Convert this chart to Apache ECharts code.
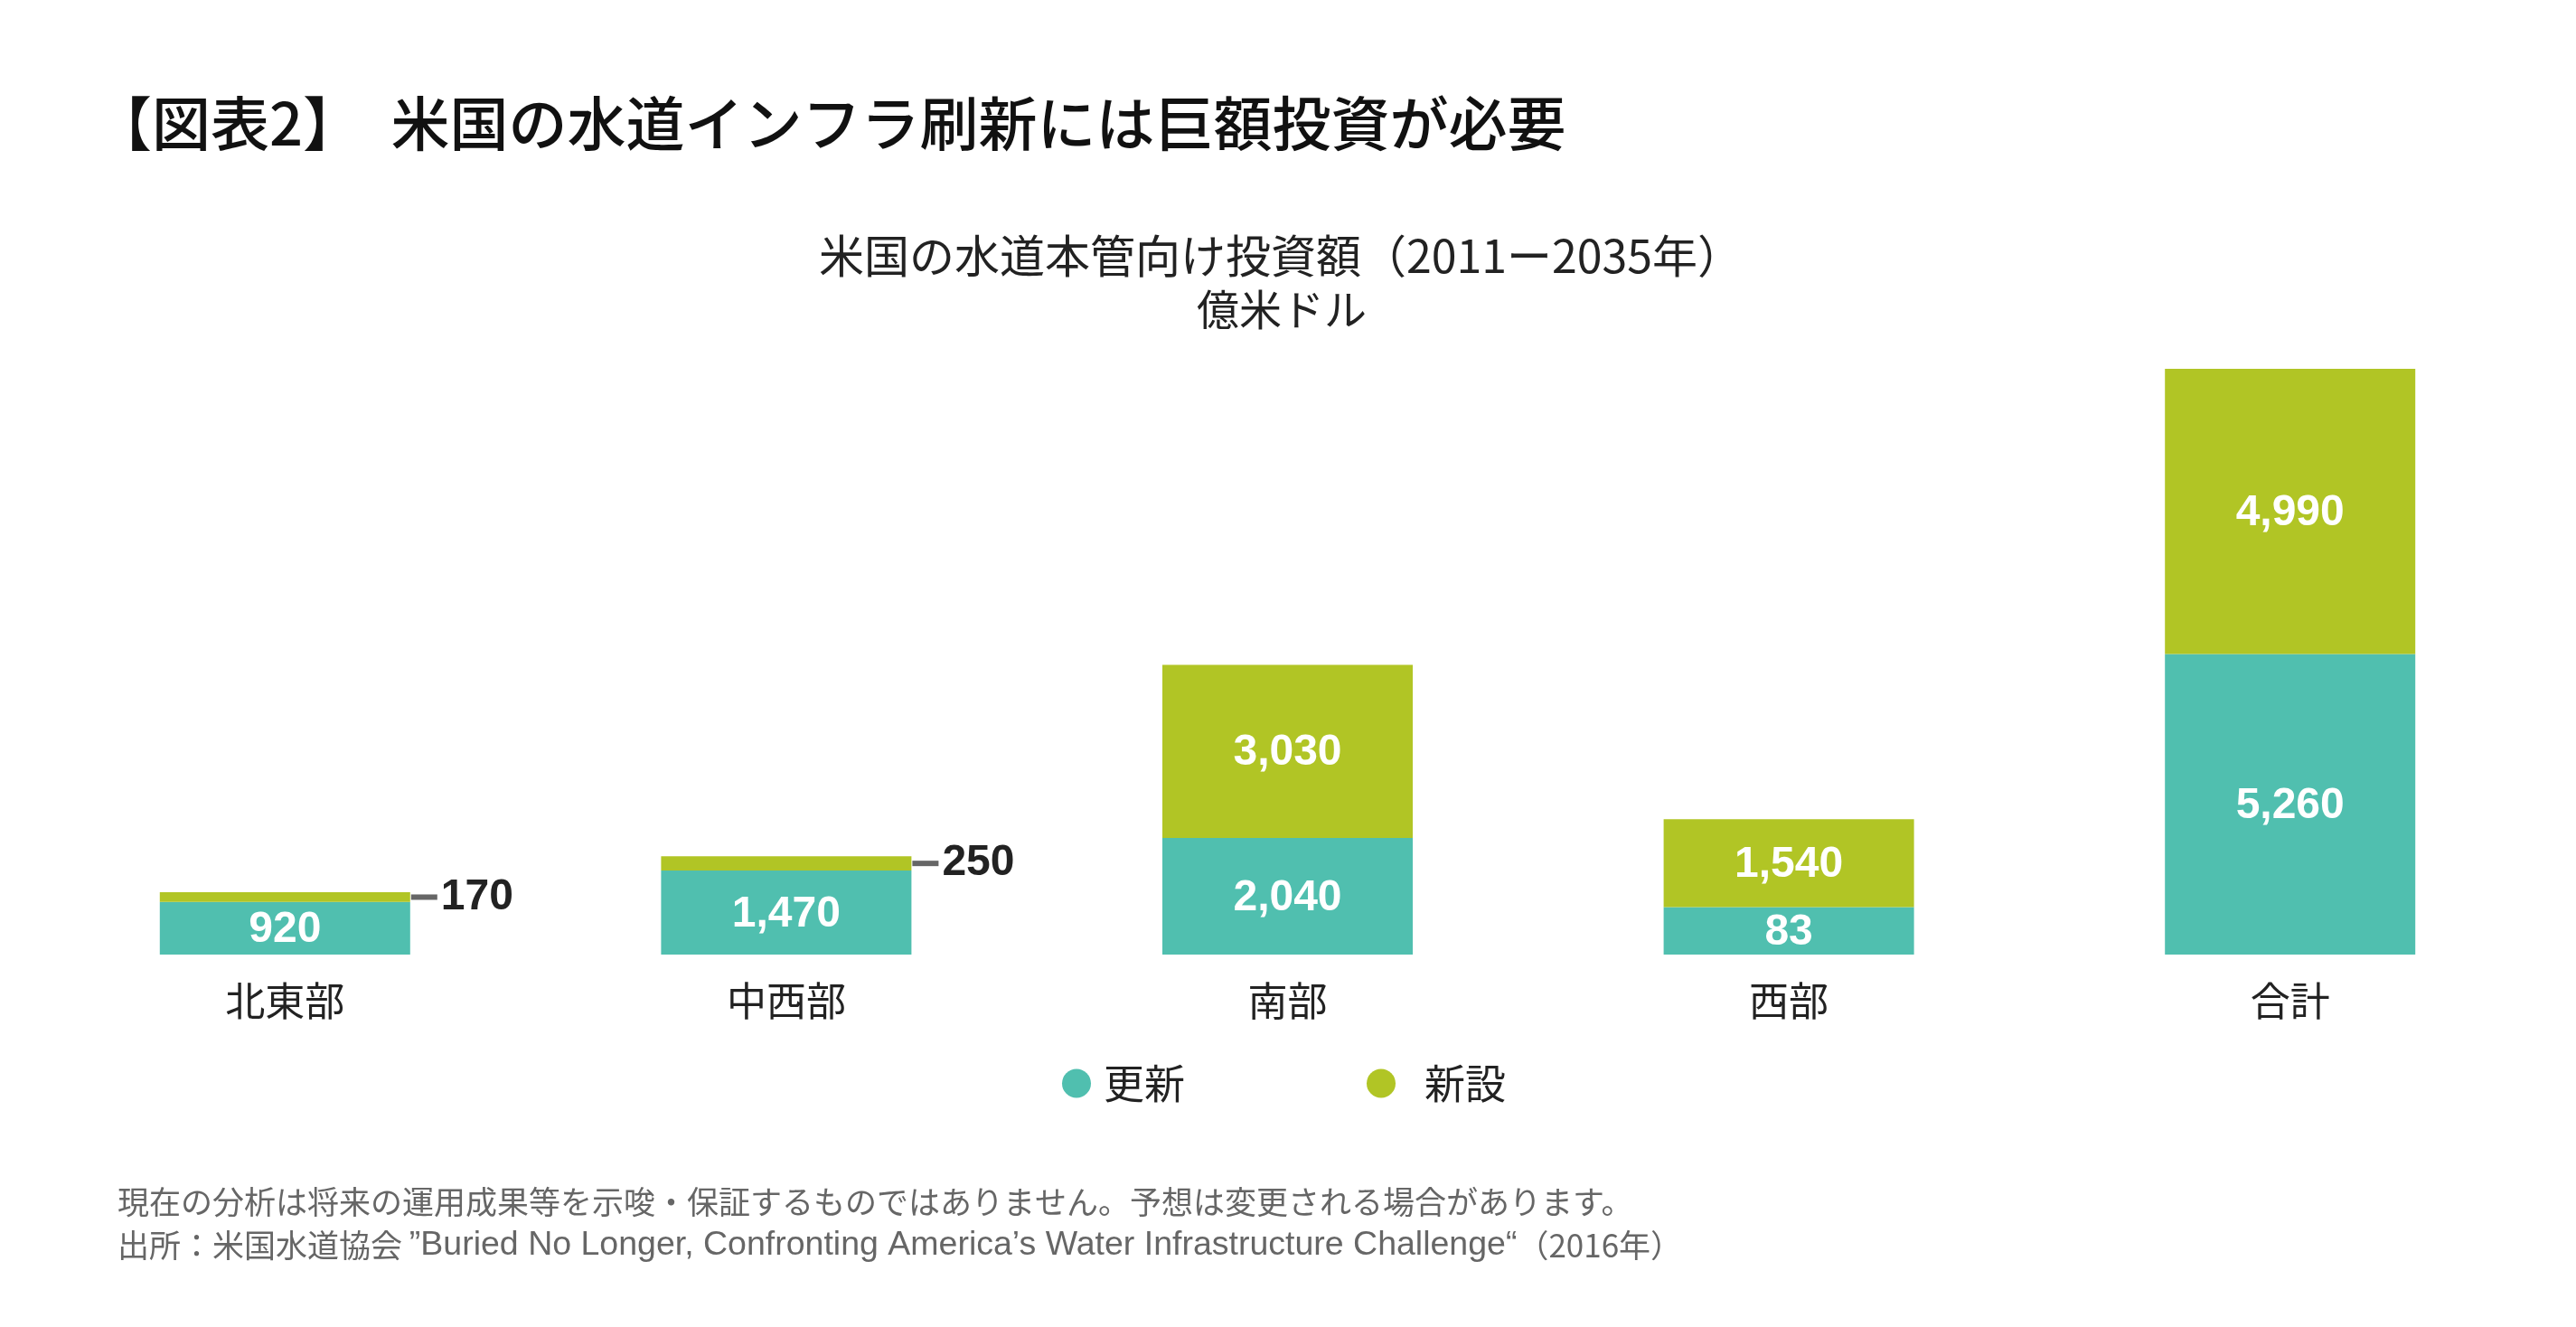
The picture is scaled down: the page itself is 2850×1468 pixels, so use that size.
<!DOCTYPE html>
<html>
<head>
<meta charset="utf-8">
<script src="https://cdn.jsdelivr.net/npm/echarts@6/dist/echarts.min.js"></script>
<style>
html,body{margin:0;padding:0;background:#fff;}
#chart{width:2850px;height:1468px;}
</style>
</head>
<body>
<div id="chart"></div>
<script>
const categories = ['北東部', '中西部', '南部', '西部', '合計'];
const renewal = [920, 1470, 2040, 830, 5260];
const renewalLabels = ['920', '1,470', '2,040', '83', '5,260'];
const newBuild = [170, 250, 3030, 1540, 4990];
const newLabels = ['170', '250', '3,030', '1,540', '4,990'];
const seriesNames = ['更新', '新設'];

const titleText = '【図表2】　米国の水道インフラ刷新には巨額投資が必要';
const subtitle1 = '米国の水道本管向け投資額（2011ー2035年）';
const subtitle2 = '億米ドル';
const note1 = '現在の分析は将来の運用成果等を示唆・保証するものではありません。予想は変更される場合があります。';
const note2a = '出所：米国水道協会 ';
const note2b = '”Buried No Longer, Confronting America’s Water Infrastructure Challenge“';
const note2c = '（2016年）';

const TEAL = '#50BFAF';
const GREEN = '#B1C525';
const CJK = '"Noto Sans CJK JP", "Noto Sans", sans-serif';
const NUM = '"Liberation Sans", Arial, sans-serif';
const MIX = '"Liberation Sans", "Noto Sans CJK JP", sans-serif';

const chart = echarts.init(document.getElementById('chart'));

const insideLabel = {
  show: true, position: 'inside', color: '#fff',
  fontFamily: NUM, fontWeight: 'bold', fontSize: 48, offset: [0, 2]
};

const renewalData = renewal.map((v, i) => ({
  value: v,
  label: Object.assign({}, insideLabel, { formatter: renewalLabels[i] })
}));

const newData = newBuild.map((v, i) => {
  if (v < 300) {
    return {
      value: v,
      label: {
        show: true, position: 'right', distance: 1,
        formatter: '{l| }{v|' + newLabels[i] + '}',
        rich: {
          l: { width: 29, height: 6, backgroundColor: '#666', fontSize: 6, lineHeight: 6 },
          v: { fontFamily: NUM, fontWeight: 'bold', fontSize: 48, color: '#222', padding: [0, 0, 0, 4] }
        }
      }
    };
  }
  return { value: v, label: Object.assign({}, insideLabel, { formatter: newLabels[i] }) };
});

const legendCommon = {
  orient: 'horizontal', icon: 'circle', itemWidth: 32, itemHeight: 32,
  top: 1176, padding: 0, selectedMode: false
};

chart.setOption({
  animation: false,
  backgroundColor: '#fff',
  color: [TEAL, GREEN],
  grid: { left: 38, right: 39, top: 408, bottom: 412 },
  xAxis: {
    type: 'category', data: categories,
    axisLine: { show: false }, axisTick: { show: false },
    axisLabel: { fontFamily: CJK, fontSize: 44, color: '#222', margin: 29 }
  },
  yAxis: {
    type: 'value', min: 0, max: 10250, show: false,
    splitLine: { show: false }
  },
  legend: [
    Object.assign({}, legendCommon, {
      left: 1175, data: [seriesNames[0]],
      textStyle: { fontFamily: CJK, fontSize: 45, color: '#222', padding: [0, 0, 0, 9] }
    }),
    Object.assign({}, legendCommon, {
      left: 1512, data: [seriesNames[1]],
      textStyle: { fontFamily: CJK, fontSize: 45, color: '#222', padding: [0, 0, 0, 27] }
    })
  ],
  series: [
    { name: seriesNames[0], type: 'bar', stack: 'total', barWidth: 277, data: renewalData },
    { name: seriesNames[1], type: 'bar', stack: 'total', barWidth: 277, data: newData }
  ],
  graphic: [
    { type: 'text', x: 103, y: 136,
      style: { text: titleText, font: '500 65px ' + CJK, fill: '#111', align: 'left', verticalAlign: 'middle', textAlign: 'left', textVerticalAlign: 'middle' } },
    { type: 'text', x: 1417, y: 283,
      style: { text: subtitle1, font: '50px ' + CJK, fill: '#222', align: 'center', verticalAlign: 'middle', textAlign: 'center', textVerticalAlign: 'middle' } },
    { type: 'text', x: 1418, y: 342,
      style: { text: subtitle2, font: '47px ' + CJK, fill: '#222', align: 'center', verticalAlign: 'middle', textAlign: 'center', textVerticalAlign: 'middle' } },
    { type: 'text', x: 130, y: 1333,
      style: { text: note1, font: '35px ' + MIX, fill: '#666', align: 'left', verticalAlign: 'middle', textAlign: 'left', textVerticalAlign: 'middle' } },
    { type: 'text', x: 130, y: 1378,
      style: {
        text: '{c|' + note2a + '}{l|' + note2b + '}{c|' + note2c + '}',
        rich: {
          c: { font: '35px ' + CJK, fill: '#666' },
          l: { font: '37.5px ' + NUM, fill: '#666' }
        },
        fill: '#666', align: 'left', verticalAlign: 'middle', textAlign: 'left', textVerticalAlign: 'middle'
      } }
  ]
});
</script>
</body>
</html>
